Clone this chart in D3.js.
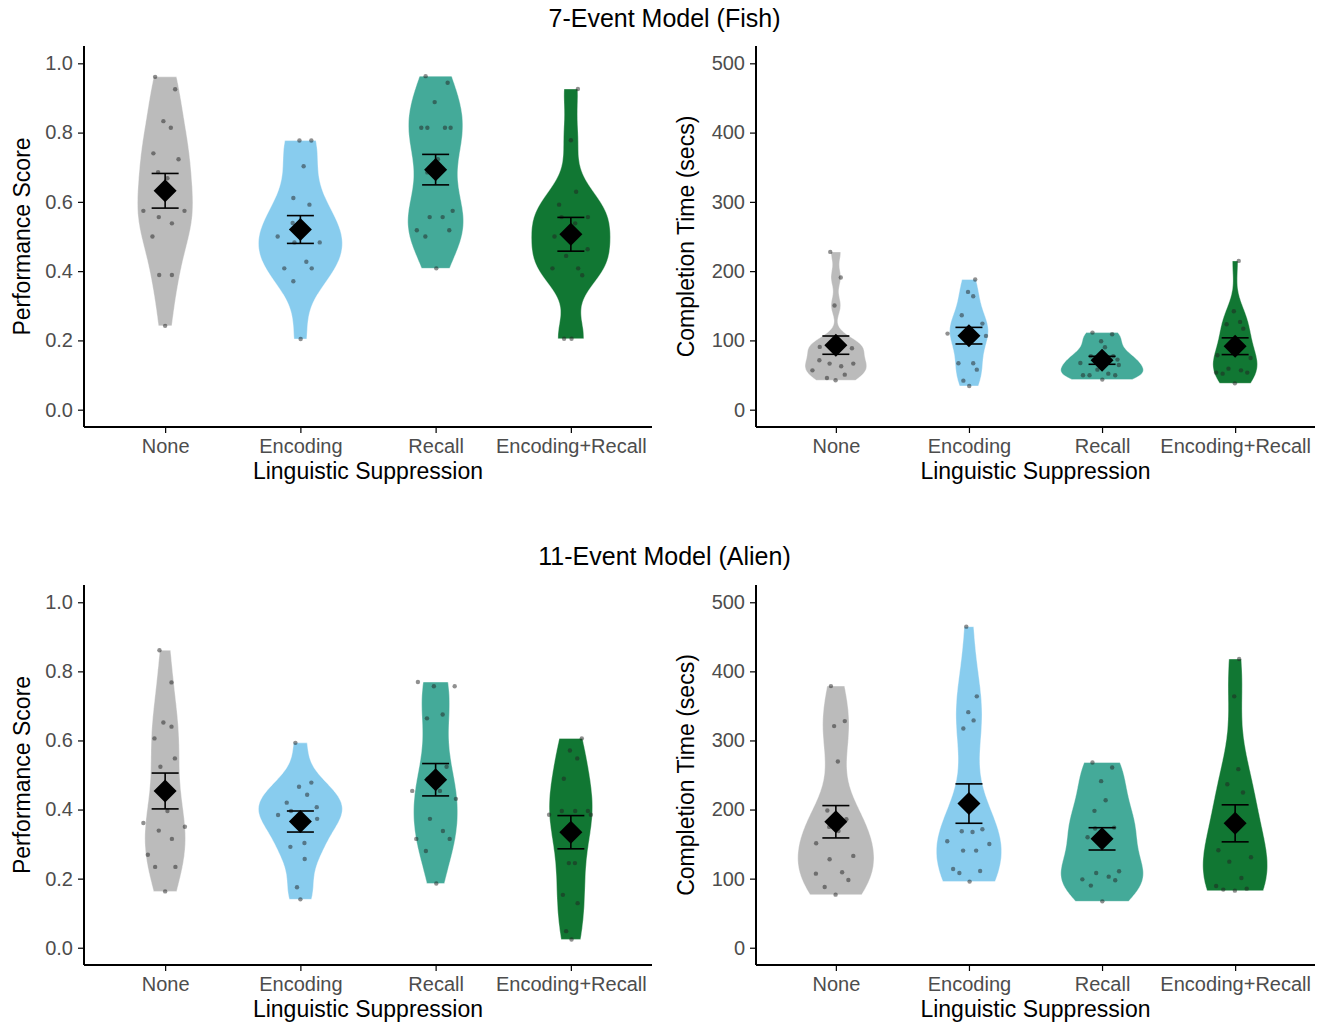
<!DOCTYPE html>
<html>
<head>
<meta charset="utf-8">
<script src="https://cdn.jsdelivr.net/npm/d3@7"></script>
<style>
  body{margin:0;background:#fff;}
  svg text{font-family:"Liberation Sans",Arial,sans-serif;}
  .axis path,.axis line{stroke:#000;}
  .axis text{fill:#4d4d4d;font-size:20px;}
</style>
</head>
<body>
<svg id="chart"></svg>
<script>
var groups=["None","Encoding","Recall","Encoding+Recall"];
var fills=["#BBBBBB","#88CCEE","#44AA99","#117733"];
var scoreTicks=[0,0.2,0.4,0.6,0.8,1.0];
var timeTicks=[0,100,200,300,400,500];

// 7-Event Model (Fish): performance score per group
var fishScore=[
  [0.961,0.925,0.833,0.814,0.740,0.723,0.686,0.668,0.574,0.574,0.556,0.538,0.500,0.389,0.389,0.242],
  [0.777,0.777,0.703,0.611,0.592,0.539,0.520,0.500,0.483,0.483,0.427,0.408,0.408,0.371,0.204],
  [0.963,0.944,0.888,0.814,0.814,0.814,0.814,0.723,0.685,0.574,0.556,0.556,0.518,0.518,0.500,0.408],
  [0.926,0.778,0.629,0.592,0.556,0.556,0.538,0.500,0.463,0.444,0.408,0.408,0.388,0.205,0.205]
];
var fishScoreJit=[
  [-0.074,0.074,-0.013,0.042,-0.087,0.099,-0.052,0.017,-0.161,0.143,-0.047,0.050,-0.094,-0.044,0.050,0],
  [-0.007,0.081,0.024,-0.052,0.067,-0.057,0,-0.168,-0.044,0.143,0.044,-0.119,0.084,-0.052,0.002],
  [-0.074,0.089,-0.007,-0.106,-0.061,0.069,0.111,0.017,-0.061,0.126,-0.044,0.052,-0.139,0.101,-0.076,0.005],
  [0.052,0,0.039,-0.087,-0.069,0.126,0.032,-0.121,0.124,-0.035,-0.136,0.054,0.084,-0.050,0.005]
];
// 7-Event Model (Fish): completion time (secs)
var fishTime=[
  [227.8,190.8,150.3,88.6,90.6,71.3,66.5,62.6,66.5,56.8,50.6,45.8,42.4,88,95,97],
  [187.9,170,163.8,136.3,124.3,109.8,106.5,67,67,57.8,41.9,34.2,108,112,116],
  [111.3,108.9,98.7,90.1,77.1,77.1,67.4,72.3,64.5,57.8,52,49.6,49.6,49.6,43.4],
  [214.8,142.1,123.3,126.7,117,78.5,74.7,59.2,53.5,52,56.8,53.5,38,88,96]
];
var fishTimeJit=[
  [-0.042,0.037,-0.010,0.121,-0.121,-0.124,-0.047,0.040,0.131,-0.176,0.067,-0.067,-0.002,0,0.01,-0.01],
  [0.047,-0.007,0.032,-0.054,0.101,-0.161,0.128,-0.079,0.032,0.059,-0.042,0.002,0,0.01,-0.01],
  [-0.072,0.076,-0.007,0.022,-0.084,0.084,-0.163,0.116,0.126,-0.035,0.047,-0.143,-0.094,0.099,0.002],
  [0.027,-0.010,-0.064,0.037,0.061,-0.133,0.116,-0.050,-0.143,-0.094,0.044,0.091,-0.002,0,0.01]
];
// 11-Event Model (Alien): performance score
var alienScore=[
  [0.861,0.768,0.652,0.640,0.606,0.548,0.524,0.396,0.361,0.350,0.339,0.315,0.269,0.234,0.234,0.163],
  [0.593,0.478,0.466,0.443,0.420,0.407,0.396,0.384,0.373,0.353,0.303,0.292,0.257,0.175,0.140],
  [0.769,0.757,0.757,0.664,0.675,0.524,0.489,0.454,0.454,0.431,0.373,0.338,0.315,0.315,0.280,0.186],
  [0.606,0.571,0.548,0.489,0.385,0.396,0.396,0.396,0.385,0.245,0.245,0.153,0.129,0.048,0.024]
];
var alienScoreJit=[
  [-0.042,0.047,-0.013,0.047,-0.079,0.072,-0.035,0.017,-0.161,0.146,-0.047,0.050,-0.128,-0.074,0.076,0],
  [-0.037,0.081,-0.010,0.050,-0.101,0.121,-0.069,-0.165,0.124,-0.017,0.030,-0.074,0.032,-0.025,0],
  [-0.131,-0.013,0.141,-0.064,0.052,0.081,-0.059,-0.173,0.032,0.150,-0.042,0.054,-0.143,0.104,-0.072,0.005],
  [0.081,-0.007,0.047,-0.052,-0.161,-0.067,0.032,0.126,0.148,-0.015,0.030,-0.059,0.050,-0.035,0.005]
];
// 11-Event Model (Alien): completion time (secs)
var alienTime=[
  [378.7,320.8,328,269.6,198.6,186,174.9,169,151.2,128,132.9,107.2,109.2,98.1,88,76.8],
  [464.7,363.8,341,329,317.4,168.6,167.6,171.5,154.1,150.2,140.6,140.6,114,108.2,111.1,95.7],
  [268.1,260.9,241.1,213.5,198.1,173.9,172.5,159.9,110.6,108.2,99,102.9,97.6,89.9,67.1,158],
  [417.9,363.8,258.5,236.7,224.6,141.1,124.6,130.9,101,89.4,84.1,82.6,85.5,175,185]
];
var alienTimeJit=[
  [-0.037,-0.013,0.067,0.015,-0.064,0.079,-0.050,0.020,-0.148,-0.047,0.131,-0.150,0.047,0.094,-0.084,-0.002],
  [-0.020,0.059,-0.005,0.035,-0.042,-0.054,0.027,0.101,-0.163,0.153,-0.044,0.054,-0.119,-0.072,0.084,0.005],
  [-0.072,0.076,-0.007,0.027,-0.057,0.091,-0.052,-0.109,0.128,-0.044,-0.148,0.050,0.099,-0.084,0.002,0],
  [0.030,-0.007,0.024,-0.059,0.059,-0.126,-0.044,0.119,0.047,-0.143,-0.089,-0.002,0.087,0,0.01]
];

var w=1329,h=1025;
var svg=d3.select("#chart").attr("width",w).attr("height",h);

var panels=[
  {vals:fishScore,jit:fishScoreJit,left:84,right:652,top:46,bottom:427,dom:[-0.05,1.05],ticks:scoreTicks,fmt:d3.format(".1f"),ytitle:"Performance Score",ytx:22},
  {vals:fishTime,jit:fishTimeJit,left:756,right:1315,top:46,bottom:427,dom:[-25,525],ticks:timeTicks,fmt:d3.format("d"),ytitle:"Completion Time (secs)",ytx:686},
  {vals:alienScore,jit:alienScoreJit,left:84,right:652,top:585,bottom:965,dom:[-0.05,1.05],ticks:scoreTicks,fmt:d3.format(".1f"),ytitle:"Performance Score",ytx:22},
  {vals:alienTime,jit:alienTimeJit,left:756,right:1315,top:585,bottom:965,dom:[-25,525],ticks:timeTicks,fmt:d3.format("d"),ytitle:"Completion Time (secs)",ytx:686}
];

// gaussian kernel density, R's nrd0 bandwidth, trimmed to data range
function kde(v){
  var s=v.slice().sort(d3.ascending);
  var n=s.length;
  var sd=d3.deviation(s);
  var iqr=d3.quantileSorted(s,0.75)-d3.quantileSorted(s,0.25);
  var bw=0.9*Math.min(sd,iqr/1.34)*Math.pow(n,-0.2);
  var lo=s[0],hi=s[n-1],out=[];
  for(var i=0;i<=200;i++){
    var y=lo+(hi-lo)*i/200;
    var d=d3.sum(s,function(x){var z=(y-x)/bw;return Math.exp(-0.5*z*z);})/(n*bw*Math.sqrt(2*Math.PI));
    out.push([y,d]);
  }
  return out;
}

panels.forEach(function(p){
  var xScale=d3.scalePoint().domain(groups).range([p.left,p.right]).padding(0.6);
  var yScale=d3.scaleLinear().domain(p.dom).range([p.bottom,p.top]);
  var step=xScale.step();
  var g=svg.append("g");

  var dens=p.vals.map(kde);
  var maxD=d3.max(dens,function(d){return d3.max(d,function(e){return e[1];});});
  var wScale=d3.scaleLinear().domain([0,maxD]).range([0,0.31*step]);

  dens.forEach(function(d,i){
    var cx=xScale(groups[i]);
    var area=d3.area()
      .y(function(e){return yScale(e[0]);})
      .x0(function(e){return cx-wScale(e[1]);})
      .x1(function(e){return cx+wScale(e[1]);});
    g.append("path")
     .datum(d)
     .attr("d",area)
     .attr("fill",fills[i])
     .attr("stroke","#fff")
     .attr("stroke-opacity",0.5)
     .attr("stroke-width",0.8);
  });

  p.vals.forEach(function(v,i){
    var cx=xScale(groups[i]);
    g.selectAll(null)
     .data(v)
     .enter()
     .append("circle")
     .attr("cx",function(d,j){return cx+p.jit[i][j]*step;})
     .attr("cy",function(d){return yScale(d);})
     .attr("r",2.2)
     .attr("fill","#222")
     .attr("fill-opacity",0.5);
  });

  p.vals.forEach(function(v,i){
    var cx=xScale(groups[i]);
    var m=d3.mean(v);
    var se=d3.deviation(v)/Math.sqrt(v.length);
    var eg=g.append("g").attr("stroke","#000").attr("stroke-width",1.6);
    eg.append("line").attr("x1",cx).attr("x2",cx).attr("y1",yScale(m-se)).attr("y2",yScale(m+se));
    eg.append("line").attr("x1",cx-13.5).attr("x2",cx+13.5).attr("y1",yScale(m-se)).attr("y2",yScale(m-se));
    eg.append("line").attr("x1",cx-13.5).attr("x2",cx+13.5).attr("y1",yScale(m+se)).attr("y2",yScale(m+se));
    g.append("path")
     .attr("d",d3.symbol().type(d3.symbolSquare).size(265)())
     .attr("transform","translate("+cx+","+yScale(m)+") rotate(45)")
     .attr("fill","#000");
  });

  var yAxis=d3.axisLeft(yScale).tickValues(p.ticks).tickFormat(p.fmt).tickSize(6).tickSizeOuter(0).tickPadding(5);
  var xAxis=d3.axisBottom(xScale).tickSize(6).tickSizeOuter(0).tickPadding(6);
  var ya=g.append("g").classed("axis",true)
     .attr("transform","translate("+p.left+",0)")
     .call(yAxis);
  ya.select(".domain").attr("d","M0,"+p.top+"V"+p.bottom).attr("stroke-width",2);
  var xa=g.append("g").classed("axis",true)
     .attr("transform","translate(0,"+p.bottom+")")
     .call(xAxis);
  xa.select(".domain").attr("d","M"+p.left+",0H"+p.right).attr("stroke-width",2);
  g.selectAll(".axis .tick line").attr("stroke-width",1.2);

  g.append("text")
   .attr("transform","translate("+p.ytx+","+((p.top+p.bottom)/2)+") rotate(-90)")
   .attr("text-anchor","middle")
   .attr("dy","0.35em")
   .style("font-size","23px")
   .text(p.ytitle);
  g.append("text")
   .attr("x",(p.left+p.right)/2)
   .attr("y",p.bottom+52)
   .attr("text-anchor","middle")
   .style("font-size","23px")
   .text("Linguistic Suppression");
});

svg.append("text").attr("x",664.5).attr("y",27).attr("text-anchor","middle").style("font-size","25px").text("7-Event Model (Fish)");
svg.append("text").attr("x",664.5).attr("y",565).attr("text-anchor","middle").style("font-size","25px").text("11-Event Model (Alien)");
</script>
</body>
</html>
